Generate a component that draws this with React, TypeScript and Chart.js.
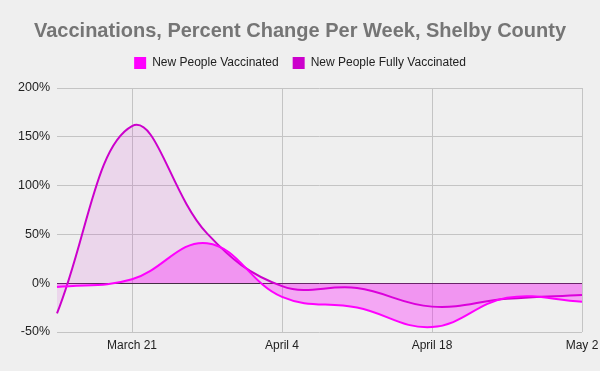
import React, { useEffect, useRef } from "react";
import { Chart, registerables, layouts } from "chart.js";

Chart.register(...registerables);

const weeks = ["March 14", "March 21", "March 28", "April 4", "April 11", "April 18", "April 25", "May 2"];
const newPeopleVaccinated = [-4, 4, 41, -14, -25, -45, -15, -19];
const newPeopleFullyVaccinated = [-31, 161, 51, -3, -5, -24, -16, -12];
const yTicks = [-50, 0, 50, 100, 150, 200];

const FONT = "'Liberation Sans', Arial, sans-serif";

export default function App() {
  const ref = useRef<HTMLCanvasElement | null>(null);
  useEffect(() => {
    document.body.style.margin = "0";
    document.body.style.background = "#efefef";
    const canvas = ref.current!;
    const bgPlugin = {
      id: "bg",
      beforeDraw(chart: any) {
        const ctx = chart.ctx;
        ctx.save();
        ctx.fillStyle = "#efefef";
        ctx.fillRect(0, 0, chart.width, chart.height);
        ctx.restore();
      },
    };
    const spacerPlugin = {
      id: "spacer",
      beforeInit(chart: any) {
        const box: any = {
          position: "top",
          weight: 1,
          fullSize: true,
          options: {},
          top: 0,
          left: 0,
          right: 0,
          bottom: 0,
          width: 0,
          height: 0,
          isHorizontal: () => true,
          update(maxWidth: number) {
            this.width = maxWidth;
            this.height = 9;
          },
          draw() {},
        };
        layouts.addBox(chart, box);
      },
    };
    const chart = new Chart(canvas, {
      type: "line",
      data: {
        labels: weeks,
        datasets: [
          {
            label: "New People Vaccinated",
            data: newPeopleVaccinated,
            borderColor: "#ff00ff",
            backgroundColor: "rgba(255,0,255,0.3)",
            borderWidth: 2,
            fill: "origin",
            tension: 0.4,
            pointRadius: 0,
          },
          {
            label: "New People Fully Vaccinated",
            data: newPeopleFullyVaccinated,
            borderColor: "#cc00cc",
            backgroundColor: "rgba(204,0,204,0.1)",
            borderWidth: 2,
            fill: "origin",
            tension: 0.4,
            pointRadius: 0,
          },
        ],
      },
      options: {
        responsive: false,
        animation: false,
        layout: { padding: { top: 8, left: 0, right: 0, bottom: 0 } },
        plugins: {
          title: {
            display: true,
            text: "Vaccinations, Percent Change Per Week, Shelby County",
            color: "#757575",
            font: { family: FONT, size: 20, weight: "bold" },
            padding: { top: 11, bottom: 0 },
          },
          legend: {
            display: true,
            labels: {
              font: { family: FONT, size: 12 },
              color: "#222",
              boxWidth: 12,
              boxHeight: 12,
              padding: 14,
              generateLabels: (chart: any) =>
                chart.data.datasets.map((d: any, i: number) => ({
                  text: d.label,
                  fillStyle: d.borderColor,
                  strokeStyle: d.borderColor,
                  lineWidth: 0,
                  datasetIndex: i,
                  fontColor: "#222",
                })),
            },
          },
          tooltip: { enabled: false },
        },
        scales: {
          x: {
            border: { display: false },
            afterFit: (s: any) => {
              s.height = 39;
              s.paddingRight = 18;
            },
            grid: {
              color: (c: any) => (c.index % 2 === 1 ? "#c4c4c4" : "rgba(0,0,0,0)"),
              drawTicks: false,
            },
            ticks: {
              autoSkip: false,
              maxRotation: 0,
              color: "#222",
              font: { family: FONT, size: 12 },
              padding: 6,
              callback: (_v: any, i: number) => (i % 2 === 1 ? weeks[i] : ""),
            },
          },
          y: {
            min: -50,
            max: 200,
            border: { display: false },
            afterBuildTicks: (s: any) => {
              s.ticks = yTicks.map((v) => ({ value: v }));
            },
            afterFit: (s: any) => {
              s.width = 57;
            },
            grid: {
              color: (c: any) => (c.tick && c.tick.value === 0 ? "#333333" : "#c4c4c4"),
              drawTicks: false,
            },
            ticks: {
              color: "#222",
              font: { family: FONT, size: 12.5 },
              padding: 7,
              callback: (v: any) => v + "%",
            },
          },
        },
      },
      plugins: [bgPlugin, spacerPlugin],
    } as any);
    return () => chart.destroy();
  }, []);
  return (
    <div style={{ width: 600, height: 371, background: "#efefef" }}>
      <canvas ref={ref} width={600} height={371} />
    </div>
  );
}
